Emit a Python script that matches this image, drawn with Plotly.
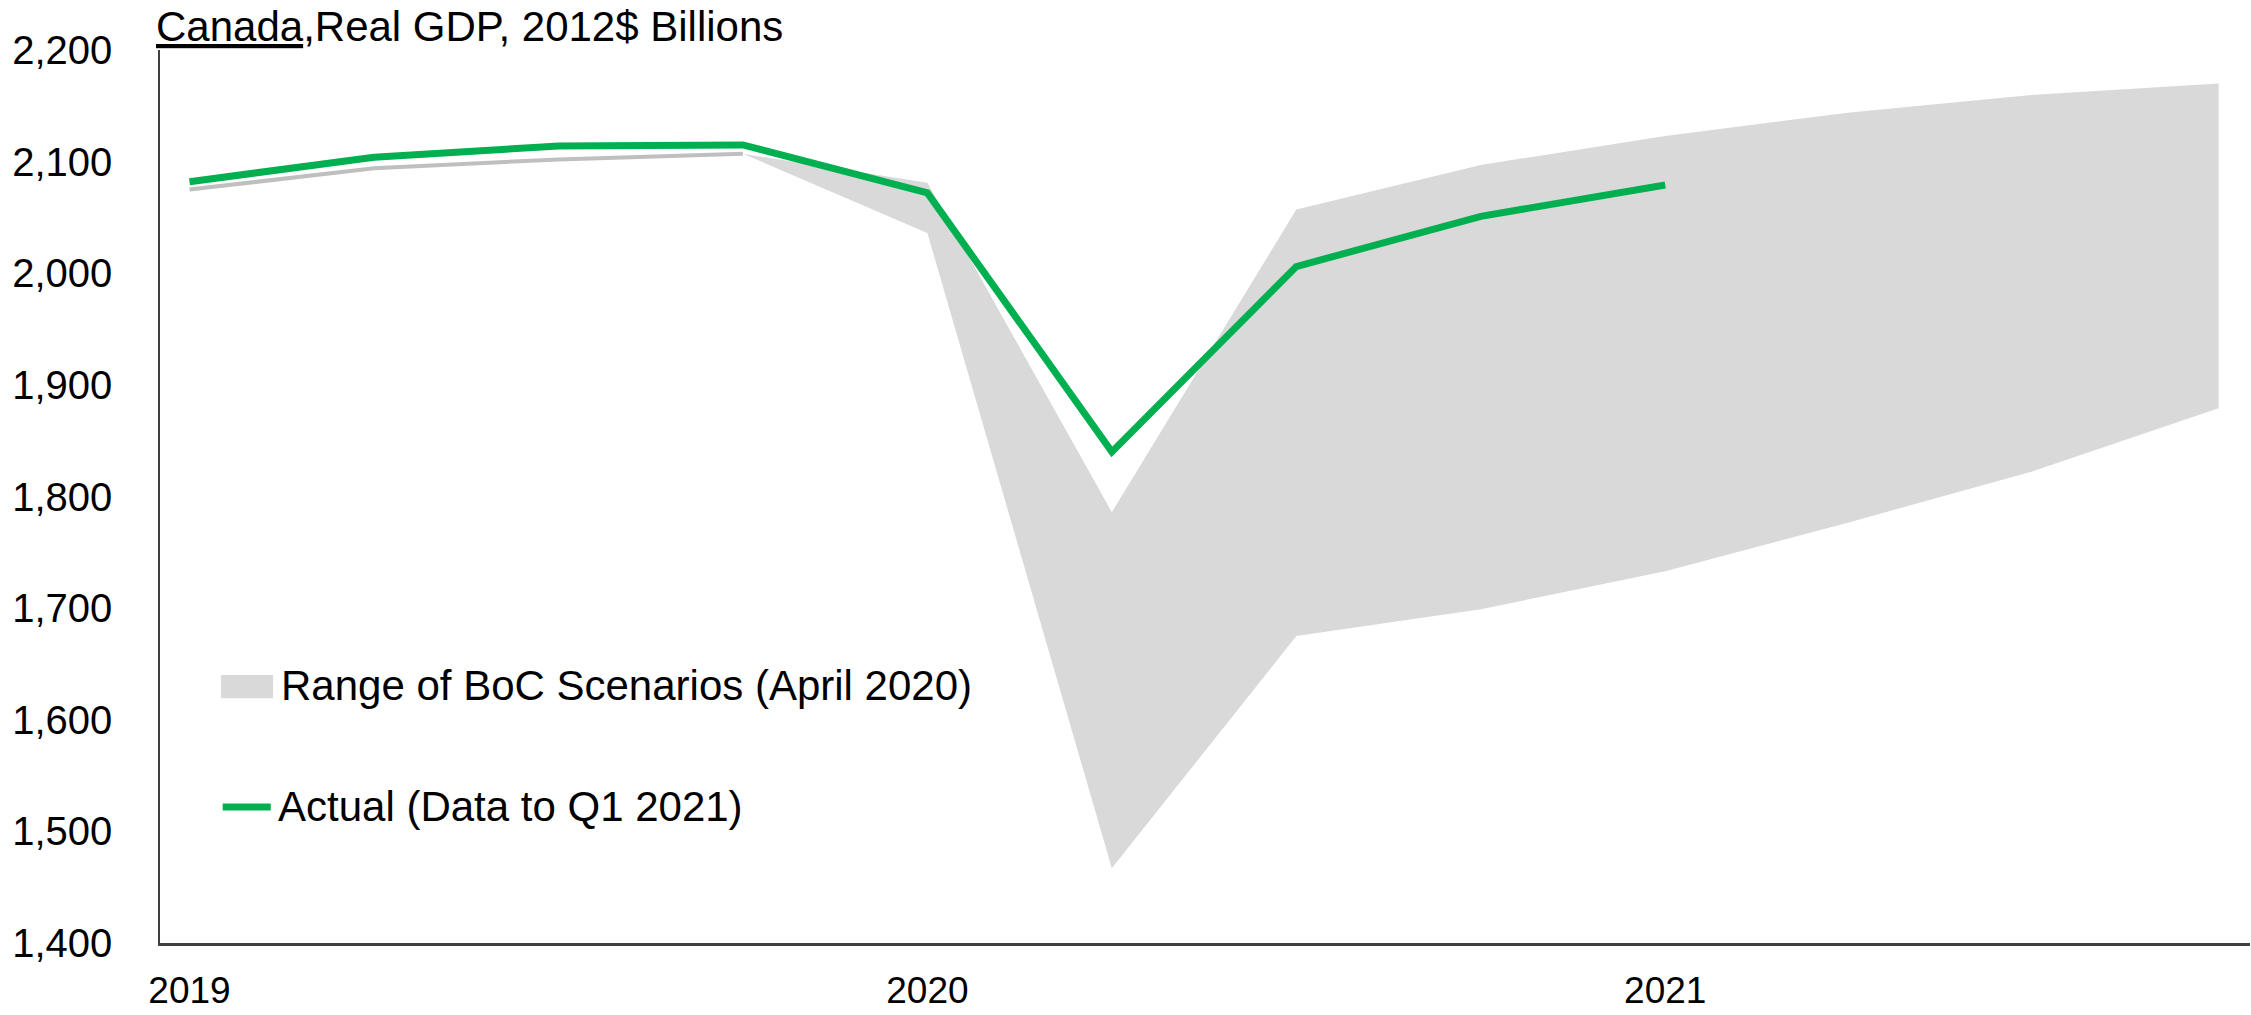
import plotly.graph_objects as go

# Quarterly timeline, 2019Q1 .. 2021Q4
quarters = ["2019Q1", "2019Q2", "2019Q3", "2019Q4",
            "2020Q1", "2020Q2", "2020Q3", "2020Q4",
            "2021Q1", "2021Q2", "2021Q3", "2021Q4"]

# Real GDP, 2012$ billions
history_apr2020 = [2075, 2094, 2102, 2107]                 # 2019Q1-2019Q4 as known in April 2020
scenario_high = [2107, 2081, 1786, 2057, 2097, 2123, 2144, 2160, 2170]   # 2019Q4-2021Q4
scenario_low = [2107, 2036, 1467, 1675, 1699, 1733, 1777, 1823, 1879]    # 2019Q4-2021Q4
actual = [2082, 2104, 2114, 2115, 2072, 1840, 2006, 2051, 2079]          # 2019Q1-2021Q1

year_ticks = ["2019", "2020", "2021"]

legend_band = "Range of BoC Scenarios (April 2020)"
legend_actual = "Actual (Data to Q1 2021)"
title_text = "<u>Canada</u>,Real GDP, 2012$ Billions"

FONT = "Liberation Sans, Arial, Helvetica, sans-serif"
GREEN = "#00B050"
BAND = "#D9D9D9"
HIST = "#BFBFBF"

pos = list(range(len(quarters)))
hist_x = pos[:len(history_apr2020)]
band_x = pos[3:3 + len(scenario_high)]
actual_x = pos[:len(actual)]
tickvals = [i for i, q in enumerate(quarters) if q.endswith("Q1")]

fig = go.Figure()

# scenario range band
fig.add_trace(go.Scatter(x=band_x, y=scenario_low, mode="lines",
                         line=dict(width=0, color=BAND), showlegend=False,
                         hoverinfo="skip"))
fig.add_trace(go.Scatter(x=band_x, y=scenario_high, mode="lines",
                         line=dict(width=0, color=BAND), fill="tonexty",
                         fillcolor=BAND, showlegend=False, hoverinfo="skip"))

# pre-pandemic history as published in April 2020
fig.add_trace(go.Scatter(x=hist_x, y=history_apr2020, mode="lines",
                         line=dict(width=4, color=HIST), showlegend=False))

# actual outcome
fig.add_trace(go.Scatter(x=actual_x, y=actual, mode="lines",
                         line=dict(width=7, color=GREEN), showlegend=False))

# hand-placed legend
fig.add_shape(type="rect", xref="x domain", yref="y domain",
              x0=0.0292, x1=0.0541, y0=0.274, y1=0.300,
              fillcolor=BAND, line=dict(width=0))
fig.add_shape(type="line", xref="x domain", yref="y domain",
              x0=0.0300, x1=0.0530, y0=0.1523, y1=0.1523,
              line=dict(color=GREEN, width=7))
fig.add_annotation(text=legend_band, xref="x domain", yref="y domain",
                   x=0.0570, y=0.2878, xanchor="left", yanchor="middle",
                   showarrow=False, font=dict(family=FONT, size=42, color="black"))
fig.add_annotation(text=legend_actual, xref="x domain", yref="y domain",
                   x=0.0555, y=0.1523, xanchor="left", yanchor="middle",
                   showarrow=False, font=dict(family=FONT, size=42, color="black"))

# chart heading
fig.add_annotation(text=title_text, xref="x domain", yref="y domain",
                   x=-0.003, y=1.026, xanchor="left", yanchor="middle",
                   showarrow=False, font=dict(family=FONT, size=42, color="black"))

fig.update_layout(
    width=2251, height=1015,
    margin=dict(l=160, r=1, t=50, b=72),
    paper_bgcolor="white", plot_bgcolor="white",
    font=dict(family=FONT, color="black"),
    showlegend=False,
)

fig.update_xaxes(
    range=[-0.16, 11.17],
    tickvals=tickvals, ticktext=year_ticks,
    showgrid=False, zeroline=False, automargin=False,
    showline=True, linecolor="#404040", linewidth=2.5,
    ticks="", ticklabelstandoff=13,
    tickfont=dict(family=FONT, size=37, color="black"),
)
fig.update_yaxes(
    range=[1400, 2200], dtick=100, tickformat=",d",
    showgrid=False, zeroline=False, automargin=False,
    showline=True, linecolor="#404040", linewidth=1.5,
    ticks="", ticklabelstandoff=38,
    tickfont=dict(family=FONT, size=40, color="black"),
)

fig.write_html("out.html")
